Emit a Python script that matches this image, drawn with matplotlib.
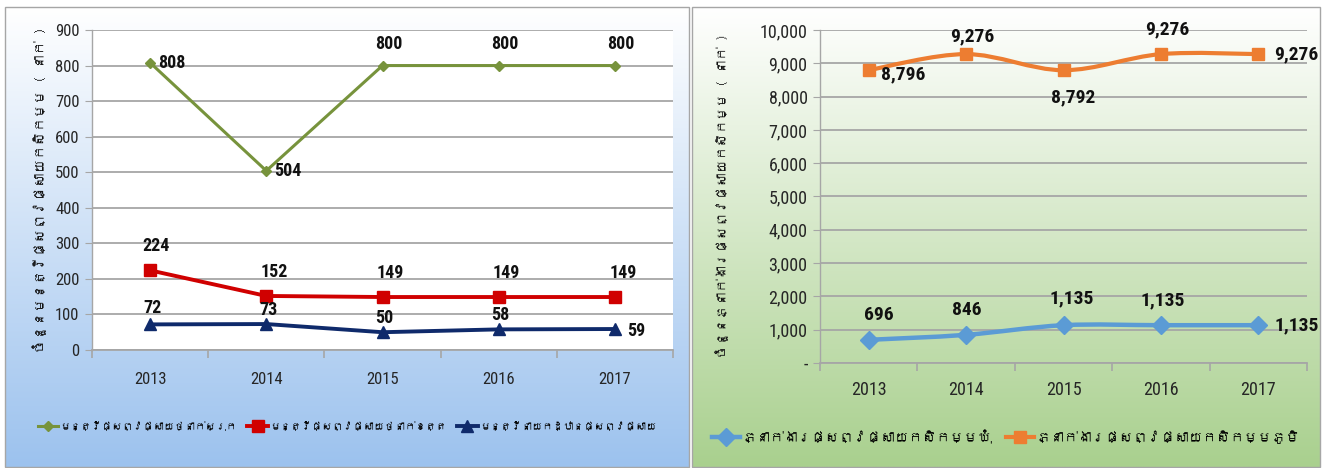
import numpy as np
import matplotlib
matplotlib.use("Agg")
import matplotlib.pyplot as plt
from matplotlib import font_manager as fm
from matplotlib.ft2font import FT2Font
from matplotlib.path import Path
from matplotlib.patches import PathPatch, Rectangle
from matplotlib.lines import Line2D
from matplotlib.ticker import FuncFormatter, FixedLocator

# ---------------- data ----------------
years = ["2013", "2014", "2015", "2016", "2017"]

left_names = ["មន្ត្រីផ្សព្វផ្សាយថ្នាក់ស្រុក", "មន្ត្រីផ្សព្វផ្សាយថ្នាក់ខេត្ត", "មន្ត្រីនាយកដ្ឋានផ្សព្វផ្សាយ"]
district = [808, 504, 800, 800, 800]
province = [224, 152, 149, 149, 149]
department = [72, 73, 50, 58, 59]

right_names = ["ភ្នាក់ងារផ្សព្វផ្សាយកសិកម្មឃុំ", "ភ្នាក់ងារផ្សព្វផ្សាយកសិកម្មភូមិ"]
commune = [696, 846, 1135, 1135, 1135]
village = [8796, 9276, 8792, 9276, 9276]

left_ylabel = "ចំនួនមន្ត្រីផ្សព្វផ្សាយកសិកម្ម ( នាក់ )"
right_ylabel = "ចំនួនភ្នាក់ងារផ្សព្វផ្សាយកសិកម្ម ( នាក់ )"

# ---------------- fonts ----------------
khmer = None
for f in fm.fontManager.ttflist:
    try:
        if 0x1780 in FT2Font(f.fname).get_charmap():
            khmer = f.name
            break
    except Exception:
        pass
names = {f.name for f in fm.fontManager.ttflist}
narrow = None
for cand in ["Liberation Sans Narrow", "Arial Narrow", "Roboto Condensed", "Open Sans Condensed", "DejaVu Sans Condensed"]:
    if cand in names:
        narrow = cand
        break
num_stretch = "normal"
if narrow is None:
    narrow = "Roboto"
    num_stretch = "condensed"
fam = [narrow, "DejaVu Sans"]
kfam = ([khmer] if khmer else []) + ["DejaVu Sans"]
plt.rcParams["font.family"] = fam

W, H = 1328, 468
fig = plt.figure(figsize=(W / 100, H / 100), dpi=100)

# ---------------- backgrounds ----------------
bg = fig.add_axes([0, 0, 1, 1], zorder=-10)
bg.set_xlim(0, W)
bg.set_ylim(H, 0)
bg.axis("off")

def gradient(x0, x1, y0, y1, c_top, c_bot):
    n = 256
    t = np.linspace(0, 1, n)[:, None]
    ct = np.array(matplotlib.colors.to_rgb(c_top))
    cb = np.array(matplotlib.colors.to_rgb(c_bot))
    img = (1 - t)[:, :, None] * ct + t[:, :, None] * cb
    img = np.repeat(img, 2, axis=1)
    bg.imshow(img, extent=(x0, x1, y1, y0), aspect="auto", interpolation="bilinear")
    bg.add_patch(Rectangle((x0, y0), x1 - x0, y1 - y0, fill=False, ec="#A6A6A6", lw=1))

gradient(5, 689, 7, 467, "#FFFFFF", "#9CC2EE")
gradient(692, 1320, 7, 467, "#FFFFFF", "#A9D08E")

def px_axes(l, r, t, b):
    return fig.add_axes([l / W, 1 - b / H, (r - l) / W, (b - t) / H])

def style_axes(ax, ymax, step, fmt, face, lsize, xpad):
    ax.set_xlim(-0.5, 4.5)
    ax.set_ylim(0, ymax)
    ax.set_facecolor(face)
    ax.yaxis.set_major_locator(FixedLocator(np.arange(0, ymax + 1, step)))
    ax.yaxis.set_major_formatter(FuncFormatter(fmt))
    ax.grid(axis="y", color="#A6A6A6", lw=1.3)
    ax.set_axisbelow(True)
    for s in ["top", "right"]:
        ax.spines[s].set_visible(False)
    ax.spines["bottom"].set_color("#A6A6A6")
    ax.spines["left"].set_color("#A6A6A6")
    ax.spines["bottom"].set_linewidth(1.3)
    ax.spines["left"].set_linewidth(1.0)
    ax.set_xticks(np.arange(-0.5, 5, 1))
    ax.set_xticklabels([])
    ax.set_xticks(range(5), minor=True)
    ax.set_xticklabels(years, minor=True)
    ax.tick_params(axis="x", which="major", length=6, color="#A6A6A6", width=1.2)
    ax.tick_params(axis="x", which="minor", length=0, pad=xpad, labelsize=lsize, labelcolor="#262626")
    ax.tick_params(axis="y", length=5, color="#A6A6A6", labelsize=lsize, labelcolor="#262626", pad=4)
    for t in ax.get_xticklabels(minor=True) + ax.get_yticklabels():
        t.set_fontstretch(num_stretch)

x = np.arange(5)

def annot(ax, xi, yi, text, dx, dy, size, ha="center"):
    ax.annotate(text, (xi, yi), xytext=(dx, dy), textcoords="offset pixels",
                ha=ha, va="center", fontsize=size, fontweight="bold", color="#111111",
                fontstretch=num_stretch)

# ---------------- left chart ----------------
axL = px_axes(92, 673, 30, 350)
style_axes(axL, 900, 100, lambda v, p: f"{v:.0f}", "white", 12, 16)
axL.plot(x, district, color="#77933C", lw=2.2, marker="D", ms=5, zorder=3)
axL.plot(x, province, color="#D00000", lw=2.8, marker="s", ms=8, zorder=3)
axL.plot(x, department, color="#0F2A6B", lw=2.8, marker="^", ms=8, zorder=3)

for i, v in enumerate(district):
    if i in (0, 1):
        annot(axL, i, v, str(v), 8, 0, 13, "left")
    else:
        annot(axL, i, v, str(v), 6, 22, 13)
for i, v in enumerate(province):
    annot(axL, i, v, str(v), 8 if i else 6, 24, 13)
for i, v in enumerate(department):
    if i == 4:
        annot(axL, i, v, str(v), 12, -2, 13, "left")
    else:
        annot(axL, i, v, str(v), 2, 16 if i == 0 else 14, 13)

# ---------------- right chart ----------------
axR = px_axes(820, 1307, 30, 363)
style_axes(axR, 10000, 1000, lambda v, p: "-" if v == 0 else f"{v:,.0f}", "none", 13, 13)

def smooth(ax, ys, color, lw):
    pts = np.column_stack([np.arange(len(ys)), np.asarray(ys, float)])
    verts = [pts[0]]
    codes = [Path.MOVETO]
    n = len(pts)
    for i in range(n - 1):
        p0 = pts[max(i - 1, 0)]
        p1 = pts[i]
        p2 = pts[i + 1]
        p3 = pts[min(i + 2, n - 1)]
        c1 = p1 + (p2 - p0) / 6
        c2 = p2 - (p3 - p1) / 6
        verts += [c1, c2, p2]
        codes += [Path.CURVE4] * 3
    ax.add_patch(PathPatch(Path(verts, codes), fill=False, ec=color, lw=lw, zorder=3,
                           capstyle="round", joinstyle="round"))

smooth(axR, commune, "#5B9BD5", 3.2)
smooth(axR, village, "#ED7D31", 3.0)
axR.plot(x, commune, ls="none", color="#5B9BD5", marker="D", ms=9, zorder=4)
axR.plot(x, village, ls="none", color="#ED7D31", marker="s", ms=9, zorder=4)

annot(axR, 0, village[0], f"{village[0]:,}", 12, -4, 14, "left")
annot(axR, 1, village[1], f"{village[1]:,}", 6, 18, 14)
annot(axR, 2, village[2], f"{village[2]:,}", 10, -27, 14)
annot(axR, 3, village[3], f"{village[3]:,}", 6, 25, 14)
annot(axR, 4, village[4], f"{village[4]:,}", 16, 0, 14, "left")
annot(axR, 0, commune[0], f"{commune[0]:,}", 10, 25, 14)
annot(axR, 1, commune[1], f"{commune[1]:,}", 1, 25, 14)
annot(axR, 2, commune[2], f"{commune[2]:,}", 8, 27, 14)
annot(axR, 3, commune[3], f"{commune[3]:,}", 2, 25, 14)
annot(axR, 4, commune[4], f"{commune[4]:,}", 16, 0, 14, "left")

# ---------------- Khmer texts (auto-fitted) ----------------
renderer = fig.canvas.get_renderer()

def fit_text(xc, yc, s, max_len, size0, rot):
    size = size0
    while True:
        t = fig.text(xc / W, 1 - yc / H, s, rotation=rot, ha="center", va="center",
                     fontsize=size, fontweight="bold", family=kfam, color="#111111")
        bb = t.get_window_extent(renderer)
        length = bb.height if rot == 90 else bb.width
        if length <= max_len or size <= 5:
            return t
        t.remove()
        size -= 0.5

fit_text(40, 190, left_ylabel, 330, 12, 90)
fit_text(722, 196, right_ylabel, 335, 12, 90)

def fit_legend(handles, labels, xc, yc, max_w, size0, ncol, colsp):
    size = size0
    while True:
        lg = fig.legend(handles, labels, loc="center", bbox_to_anchor=(xc / W, 1 - yc / H),
                        ncol=ncol, frameon=False, prop={"family": kfam, "size": size},
                        handlelength=2.0, handletextpad=0.2, columnspacing=colsp,
                        borderpad=0.1)
        w = lg.get_window_extent(renderer).width
        if w <= max_w or size <= 5:
            return lg
        lg.remove()
        size -= 0.5

hL = [Line2D([], [], color="#77933C", lw=2.2, marker="D", ms=5),
      Line2D([], [], color="#D00000", lw=2.8, marker="s", ms=8),
      Line2D([], [], color="#0F2A6B", lw=2.8, marker="^", ms=8)]
fit_legend(hL, left_names, 347, 426, 665, 13, 3, 1.0)

hR = [Line2D([], [], color="#5B9BD5", lw=3.2, marker="D", ms=9),
      Line2D([], [], color="#ED7D31", lw=3.0, marker="s", ms=9)]
fit_legend(hR, right_names, 1006, 437, 610, 14, 2, 1.0)

fig.savefig("out.png", dpi=100)
